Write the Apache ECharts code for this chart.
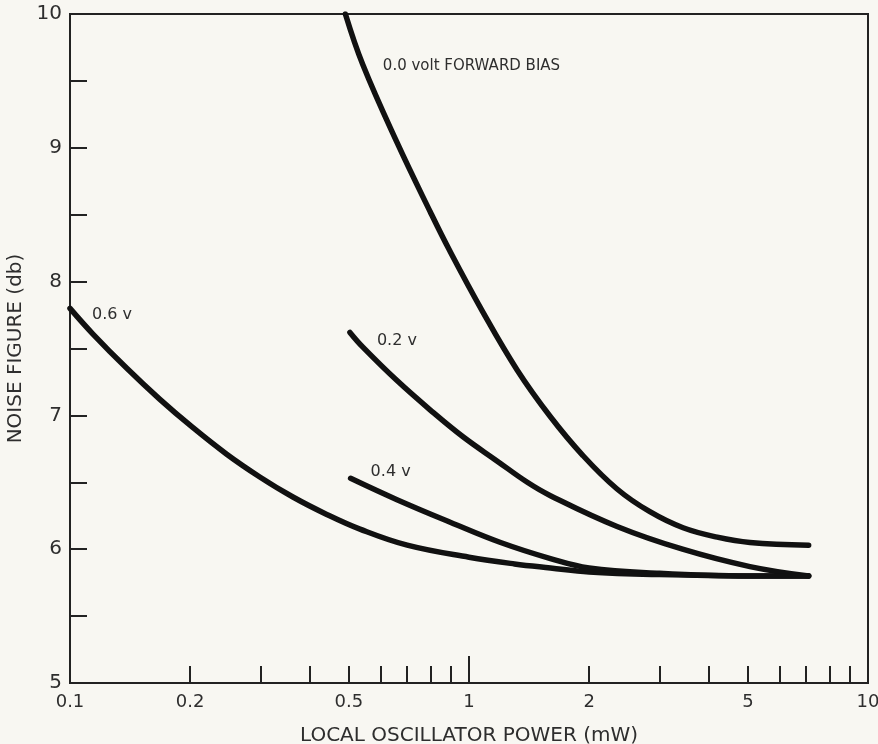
<!DOCTYPE html>
<html><head><meta charset="utf-8">
<script src="https://cdn.jsdelivr.net/npm/echarts@6/dist/echarts.min.js"></script>
<style>html,body{margin:0;padding:0;background:#f8f7f2}#c{width:878px;height:744px}</style>
</head><body><div id="c"></div>
<script>
// Axis tick / label values
const xMinorTicks = [0.2,0.3,0.4,0.5,0.6,0.7,0.8,0.9,2,3,4,5,6,7,8,9];
const xMajorTicks = [1];
const xLabels = [0.1,0.2,0.5,1,2,5,10];

// Curves: local oscillator power (mW) vs noise figure (db)
const v00_x = [0.49, 0.542, 0.66, 0.80, 0.895, 1.08, 1.32, 1.60, 1.93, 2.35, 2.84, 3.44, 4.19, 5.06, 7.1];
const v00_y = [10.0, 9.62, 9.04, 8.52, 8.23, 7.78, 7.34, 6.99, 6.70, 6.45, 6.28, 6.16, 6.09, 6.05, 6.03];

const v02_x = [0.503, 0.542, 0.66, 0.80, 0.966, 1.175, 1.40, 1.60, 2.35, 3.43, 5.06, 7.1];
const v02_y = [7.62, 7.51, 7.26, 7.04, 6.84, 6.66, 6.50, 6.40, 6.17, 6.00, 5.87, 5.80];

const v04_x = [0.505, 0.66, 0.90, 1.20, 1.60, 2.00, 3.00, 5.00, 7.1];
const v04_y = [6.53, 6.37, 6.20, 6.05, 5.93, 5.86, 5.82, 5.80, 5.80];

const v06_x = [0.10, 0.114, 0.139, 0.168, 0.203, 0.247, 0.299, 0.362, 0.44, 0.533, 0.70, 1.00, 1.30, 1.60, 2.00, 3.00, 5.00, 7.1];
const v06_y = [7.80, 7.61, 7.35, 7.12, 6.91, 6.71, 6.54, 6.39, 6.26, 6.15, 6.03, 5.94, 5.89, 5.86, 5.83, 5.81, 5.80, 5.80];

const curveLabels = ['0.0 volt FORWARD BIAS', '0.2 v', '0.4 v', '0.6 v'];
const labelIndex = [1, 0, 0, 0];

const FONT = 'DejaVu Sans';
const TXT = '#2e2e2e';
const INK = '#111';

function mkData(xs, ys, li, text, distance, offset, size) {
  return xs.map((x, i) => {
    if (i !== li) return [x, ys[i]];
    return {
      value: [x, ys[i]],
      label: { show: true, formatter: text, position: 'right', distance: distance, offset: offset,
               color: TXT, fontFamily: FONT, fontSize: size }
    };
  });
}

const labelCfg = [
  { d: 20, o: [0, 1], s: 15 },
  { d: 27, o: [0, 8], s: 16 },
  { d: 20, o: [0, -6], s: 16 },
  { d: 22, o: [0, 6], s: 16 }
];
const xs = [v00_x, v02_x, v04_x, v06_x];
const ys = [v00_y, v02_y, v04_y, v06_y];

const series = xs.map((xv, k) => ({
  type: 'line',
  smooth: 0.4,
  showSymbol: true,
  symbol: 'circle',
  symbolSize: 0,
  silent: true,
  lineStyle: { color: INK, width: 5.5, cap: 'round' },
  itemStyle: { color: INK },
  data: mkData(xv, ys[k], labelIndex[k], curveLabels[k], labelCfg[k].d, labelCfg[k].o, labelCfg[k].s)
}));

const chart = echarts.init(document.getElementById('c'), null, { renderer: 'canvas' });
chart.setOption({
  backgroundColor: '#f8f7f2',
  animation: false,
  grid: { left: 70, right: 10, top: 14, bottom: 61, outerBoundsMode: 'none', containLabel: false,
          show: true, borderColor: '#222', borderWidth: 2, backgroundColor: 'transparent' },
  xAxis: [{
    type: 'log', logBase: 10, min: 0.1, max: 10,
    name: 'LOCAL OSCILLATOR POWER (mW)', nameLocation: 'middle', nameGap: 43,
    nameTextStyle: { color: TXT, fontFamily: FONT, fontSize: 20 },
    axisLine: { show: true, lineStyle: { color: '#222', width: 2 } },
    axisTick: { show: true, inside: true, length: 17, customValues: xMinorTicks, lineStyle: { color: '#222', width: 2 } },
    axisLabel: { show: true, customValues: xLabels, margin: 10, color: TXT, fontFamily: FONT, fontSize: 18,
                 formatter: v => String(+v.toPrecision(3)) },
    splitLine: { show: false }, minorSplitLine: { show: false }
  }, {
    type: 'log', logBase: 10, min: 0.1, max: 10, gridIndex: 0, position: 'bottom',
    axisLine: { show: false },
    axisTick: { show: true, inside: true, length: 27, customValues: xMajorTicks, lineStyle: { color: '#222', width: 2 } },
    axisLabel: { show: false }, splitLine: { show: false }
  }],
  yAxis: {
    type: 'value', min: 5, max: 10, interval: 0.5,
    name: 'NOISE FIGURE (db)', nameLocation: 'middle', nameGap: 40,
    nameTextStyle: { color: TXT, fontFamily: FONT, fontSize: 20 },
    axisLine: { show: true, lineStyle: { color: '#222', width: 2 } },
    axisTick: { show: true, inside: true, length: 17, lineStyle: { color: '#222', width: 2 } },
    axisLabel: { show: true, margin: 8, color: TXT, fontFamily: FONT, fontSize: 20,
                 formatter: v => (Math.abs(v - Math.round(v)) < 1e-9 ? String(Math.round(v)) : '') },
    splitLine: { show: false }
  },
  series: series
});
</script></body></html>
